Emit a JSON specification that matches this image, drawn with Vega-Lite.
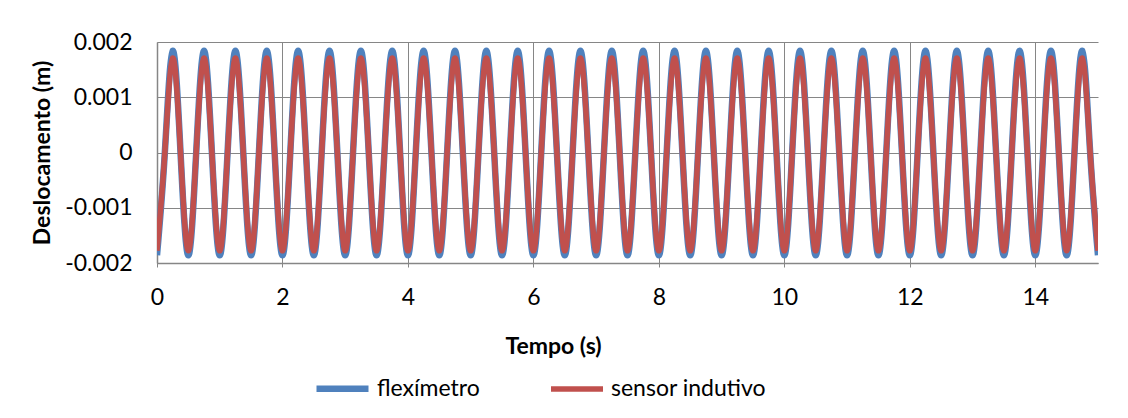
{
  "$schema": "https://vega.github.io/schema/vega-lite/v6.json",
  "width": 941,
  "height": 221,
  "autosize": {"type": "none"},
  "padding": {"left": 157, "top": 42, "right": 30, "bottom": 155},
  "background": "white",
  "config": {
    "font": "Lato",
    "view": {"stroke": null},
    "axis": {"labelFont": "Lato", "titleFont": "Lato", "labelColor": "#000000", "titleColor": "#000000"}
  },
  "data": {
    "values": [
      {"t":0,"flexímetro":-0.00186,"sensor indutivo":-0.00178},
      {"t":0.125,"flexímetro":0,"sensor indutivo":0},
      {"t":0.25,"flexímetro":0.00184,"sensor indutivo":0.00171},
      {"t":0.375,"flexímetro":0,"sensor indutivo":0},
      {"t":0.5,"flexímetro":-0.00186,"sensor indutivo":-0.00178},
      {"t":0.625,"flexímetro":0,"sensor indutivo":0},
      {"t":0.75,"flexímetro":0.00184,"sensor indutivo":0.00171},
      {"t":0.875,"flexímetro":0,"sensor indutivo":0},
      {"t":1,"flexímetro":-0.00186,"sensor indutivo":-0.00178},
      {"t":1.125,"flexímetro":0,"sensor indutivo":0},
      {"t":1.25,"flexímetro":0.00184,"sensor indutivo":0.00171},
      {"t":1.375,"flexímetro":0,"sensor indutivo":0},
      {"t":1.5,"flexímetro":-0.00186,"sensor indutivo":-0.00178},
      {"t":1.625,"flexímetro":0,"sensor indutivo":0},
      {"t":1.75,"flexímetro":0.00184,"sensor indutivo":0.00171},
      {"t":1.875,"flexímetro":0,"sensor indutivo":0},
      {"t":2,"flexímetro":-0.00186,"sensor indutivo":-0.00178},
      {"t":2.125,"flexímetro":0,"sensor indutivo":0},
      {"t":2.25,"flexímetro":0.00184,"sensor indutivo":0.00171},
      {"t":2.375,"flexímetro":0,"sensor indutivo":0},
      {"t":2.5,"flexímetro":-0.00186,"sensor indutivo":-0.00178},
      {"t":2.625,"flexímetro":0,"sensor indutivo":0},
      {"t":2.75,"flexímetro":0.00184,"sensor indutivo":0.00171},
      {"t":2.875,"flexímetro":0,"sensor indutivo":0},
      {"t":3,"flexímetro":-0.00186,"sensor indutivo":-0.00178},
      {"t":3.125,"flexímetro":0,"sensor indutivo":0},
      {"t":3.25,"flexímetro":0.00184,"sensor indutivo":0.00171},
      {"t":3.375,"flexímetro":0,"sensor indutivo":0},
      {"t":3.5,"flexímetro":-0.00186,"sensor indutivo":-0.00178},
      {"t":3.625,"flexímetro":0,"sensor indutivo":0},
      {"t":3.75,"flexímetro":0.00184,"sensor indutivo":0.00171},
      {"t":3.875,"flexímetro":0,"sensor indutivo":0},
      {"t":4,"flexímetro":-0.00186,"sensor indutivo":-0.00178},
      {"t":4.125,"flexímetro":0,"sensor indutivo":0},
      {"t":4.25,"flexímetro":0.00184,"sensor indutivo":0.00171},
      {"t":4.375,"flexímetro":0,"sensor indutivo":0},
      {"t":4.5,"flexímetro":-0.00186,"sensor indutivo":-0.00178},
      {"t":4.625,"flexímetro":0,"sensor indutivo":0},
      {"t":4.75,"flexímetro":0.00184,"sensor indutivo":0.00171},
      {"t":4.875,"flexímetro":0,"sensor indutivo":0},
      {"t":5,"flexímetro":-0.00186,"sensor indutivo":-0.00178},
      {"t":5.125,"flexímetro":0,"sensor indutivo":0},
      {"t":5.25,"flexímetro":0.00184,"sensor indutivo":0.00171},
      {"t":5.375,"flexímetro":0,"sensor indutivo":0},
      {"t":5.5,"flexímetro":-0.00186,"sensor indutivo":-0.00178},
      {"t":5.625,"flexímetro":0,"sensor indutivo":0},
      {"t":5.75,"flexímetro":0.00184,"sensor indutivo":0.00171},
      {"t":5.875,"flexímetro":0,"sensor indutivo":0},
      {"t":6,"flexímetro":-0.00186,"sensor indutivo":-0.00178},
      {"t":6.125,"flexímetro":0,"sensor indutivo":0},
      {"t":6.25,"flexímetro":0.00184,"sensor indutivo":0.00171},
      {"t":6.375,"flexímetro":0,"sensor indutivo":0},
      {"t":6.5,"flexímetro":-0.00186,"sensor indutivo":-0.00178},
      {"t":6.625,"flexímetro":0,"sensor indutivo":0},
      {"t":6.75,"flexímetro":0.00184,"sensor indutivo":0.00171},
      {"t":6.875,"flexímetro":0,"sensor indutivo":0},
      {"t":7,"flexímetro":-0.00186,"sensor indutivo":-0.00178},
      {"t":7.125,"flexímetro":0,"sensor indutivo":0},
      {"t":7.25,"flexímetro":0.00184,"sensor indutivo":0.00171},
      {"t":7.375,"flexímetro":0,"sensor indutivo":0},
      {"t":7.5,"flexímetro":-0.00186,"sensor indutivo":-0.00178},
      {"t":7.625,"flexímetro":0,"sensor indutivo":0},
      {"t":7.75,"flexímetro":0.00184,"sensor indutivo":0.00171},
      {"t":7.875,"flexímetro":0,"sensor indutivo":0},
      {"t":8,"flexímetro":-0.00186,"sensor indutivo":-0.00178},
      {"t":8.125,"flexímetro":0,"sensor indutivo":0},
      {"t":8.25,"flexímetro":0.00184,"sensor indutivo":0.00171},
      {"t":8.375,"flexímetro":0,"sensor indutivo":0},
      {"t":8.5,"flexímetro":-0.00186,"sensor indutivo":-0.00178},
      {"t":8.625,"flexímetro":0,"sensor indutivo":0},
      {"t":8.75,"flexímetro":0.00184,"sensor indutivo":0.00171},
      {"t":8.875,"flexímetro":0,"sensor indutivo":0},
      {"t":9,"flexímetro":-0.00186,"sensor indutivo":-0.00178},
      {"t":9.125,"flexímetro":0,"sensor indutivo":0},
      {"t":9.25,"flexímetro":0.00184,"sensor indutivo":0.00171},
      {"t":9.375,"flexímetro":0,"sensor indutivo":0},
      {"t":9.5,"flexímetro":-0.00186,"sensor indutivo":-0.00178},
      {"t":9.625,"flexímetro":0,"sensor indutivo":0},
      {"t":9.75,"flexímetro":0.00184,"sensor indutivo":0.00171},
      {"t":9.875,"flexímetro":0,"sensor indutivo":0},
      {"t":10,"flexímetro":-0.00186,"sensor indutivo":-0.00178},
      {"t":10.125,"flexímetro":0,"sensor indutivo":0},
      {"t":10.25,"flexímetro":0.00184,"sensor indutivo":0.00171},
      {"t":10.375,"flexímetro":0,"sensor indutivo":0},
      {"t":10.5,"flexímetro":-0.00186,"sensor indutivo":-0.00178},
      {"t":10.625,"flexímetro":0,"sensor indutivo":0},
      {"t":10.75,"flexímetro":0.00184,"sensor indutivo":0.00171},
      {"t":10.875,"flexímetro":0,"sensor indutivo":0},
      {"t":11,"flexímetro":-0.00186,"sensor indutivo":-0.00178},
      {"t":11.125,"flexímetro":0,"sensor indutivo":0},
      {"t":11.25,"flexímetro":0.00184,"sensor indutivo":0.00171},
      {"t":11.375,"flexímetro":0,"sensor indutivo":0},
      {"t":11.5,"flexímetro":-0.00186,"sensor indutivo":-0.00178},
      {"t":11.625,"flexímetro":0,"sensor indutivo":0},
      {"t":11.75,"flexímetro":0.00184,"sensor indutivo":0.00171},
      {"t":11.875,"flexímetro":0,"sensor indutivo":0},
      {"t":12,"flexímetro":-0.00186,"sensor indutivo":-0.00178},
      {"t":12.125,"flexímetro":0,"sensor indutivo":0},
      {"t":12.25,"flexímetro":0.00184,"sensor indutivo":0.00171},
      {"t":12.375,"flexímetro":0,"sensor indutivo":0},
      {"t":12.5,"flexímetro":-0.00186,"sensor indutivo":-0.00178},
      {"t":12.625,"flexímetro":0,"sensor indutivo":0},
      {"t":12.75,"flexímetro":0.00184,"sensor indutivo":0.00171},
      {"t":12.875,"flexímetro":0,"sensor indutivo":0},
      {"t":13,"flexímetro":-0.00186,"sensor indutivo":-0.00178},
      {"t":13.125,"flexímetro":0,"sensor indutivo":0},
      {"t":13.25,"flexímetro":0.00184,"sensor indutivo":0.00171},
      {"t":13.375,"flexímetro":0,"sensor indutivo":0},
      {"t":13.5,"flexímetro":-0.00186,"sensor indutivo":-0.00178},
      {"t":13.625,"flexímetro":0,"sensor indutivo":0},
      {"t":13.75,"flexímetro":0.00184,"sensor indutivo":0.00171},
      {"t":13.875,"flexímetro":0,"sensor indutivo":0},
      {"t":14,"flexímetro":-0.00186,"sensor indutivo":-0.00178},
      {"t":14.125,"flexímetro":0,"sensor indutivo":0},
      {"t":14.25,"flexímetro":0.00184,"sensor indutivo":0.00171},
      {"t":14.375,"flexímetro":0,"sensor indutivo":0},
      {"t":14.5,"flexímetro":-0.00186,"sensor indutivo":-0.00178},
      {"t":14.625,"flexímetro":0,"sensor indutivo":0},
      {"t":14.75,"flexímetro":0.00184,"sensor indutivo":0.00171},
      {"t":14.875,"flexímetro":0,"sensor indutivo":0},
      {"t":15,"flexímetro":-0.00186,"sensor indutivo":-0.00178}
    ]
  },
  "transform": [
    {"fold": ["flexímetro", "sensor indutivo"], "as": ["serie", "valor"]}
  ],
  "mark": {"type": "line", "interpolate": "natural", "clip": true},
  "encoding": {
    "x": {
      "field": "t", "type": "quantitative",
      "scale": {"domain": [0, 15], "nice": false},
      "axis": {
        "title": "Tempo (s)", "titleFontSize": 23, "titleFontWeight": "bold",
        "titleX": 396, "titlePadding": 26,
        "values": [0, 2, 4, 6, 8, 10, 12, 14],
        "labelFontSize": 23, "labelPadding": 19, "labelFlush": false,
        "grid": true, "gridColor": "#868686", "gridWidth": 1, "gridOpacity": 1,
        "domainColor": "#868686", "domainWidth": 1.5,
        "ticks": true, "tickSize": 4, "tickColor": "#868686"
      }
    },
    "y": {
      "field": "valor", "type": "quantitative",
      "scale": {"domain": [-0.002, 0.002], "nice": false, "zero": false},
      "axis": {
        "title": "Deslocamento (m)", "titleFontSize": 23, "titleFontWeight": "bold",
        "titlePadding": 10,
        "values": [-0.002, -0.001, 0, 0.001, 0.002],
        "labelExpr": "toString(datum.value)",
        "labelFontSize": 23, "labelPadding": 25, "labelFlush": false,
        "grid": true, "gridColor": "#868686", "gridWidth": 1, "gridOpacity": 1,
        "domainColor": "#868686", "domainWidth": 1.5,
        "ticks": false
      }
    },
    "color": {
      "field": "serie", "type": "nominal",
      "scale": {"domain": ["flexímetro", "sensor indutivo"], "range": ["#4F81BD", "#C0504D"]},
      "legend": {
        "title": null, "orient": "none", "direction": "horizontal",
        "legendX": 156, "legendY": 317,
        "symbolType": "stroke", "symbolSize": 2704, "symbolStrokeWidth": 4,
        "labelFontSize": 23, "labelFont": "Lato", "labelColor": "#000000",
        "labelOffset": 5, "columnPadding": 60
      }
    },
    "strokeWidth": {
      "field": "serie", "type": "nominal",
      "scale": {"domain": ["flexímetro", "sensor indutivo"], "range": [6.5, 5.5]},
      "legend": null
    }
  }
}
